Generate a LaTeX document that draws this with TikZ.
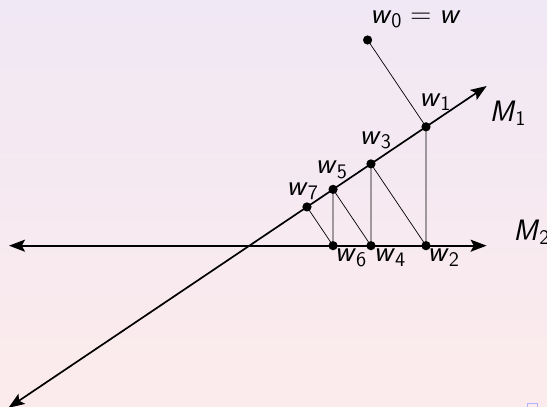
\documentclass[tikz,border=0pt]{standalone}
\usepackage{xcolor}
\usepackage{tikz}
\usetikzlibrary{arrows.meta, positioning, calc}
\definecolor{slidetop}{RGB}{240,232,245}
\definecolor{slidebottom}{RGB}{252,235,236}
\newcommand{\witer}[1]{\textsl{w}\textsubscript{#1}}
\tikzset{
  spaceline/.style={
    {Stealth[length=4mm,width=3mm,inset=0.8mm]}-{Stealth[length=4mm,width=3mm,inset=0.8mm]},
    line width=1.2pt
  },
  projline/.style={line width=0.5pt},
  iterdot/.style={circle, fill=black, inner sep=0pt, minimum size=2.3mm},
  iterlabel/.style={
    inner sep=0pt, anchor=base west,
    font=\fontsize{21}{25}\selectfont\sffamily
  },
}

\begin{document}
\begin{tikzpicture}
  % ── slide background ──
  \shade[top color=slidetop, bottom color=slidebottom] (0,0) rectangle (13.675,10.15);
  \useasboundingbox (0,0) rectangle (13.675,10.15);

  % ── the two subspaces ──
  \coordinate (O) at (6.235,4.008);
  \coordinate (M1tip) at ($(O)+(33.94:7.15)$);
  \coordinate (M1tail) at ($(O)+(213.94:7.26)$);
  \coordinate (M2tip) at ($(O)+(5.93,0)$);
  \coordinate (M2tail) at ($(O)+(-6.01,0)$);

  % ── alternating projections ──
  \coordinate (w0) at (9.19,9.15);
  \coordinate (w1) at ($(O)!(w0)!(M1tip)$);
  \coordinate (w2) at (w1 |- O);
  \coordinate (w3) at ($(O)!(w2)!(M1tip)$);
  \coordinate (w4) at (w3 |- O);
  \coordinate (w5) at ($(O)!(w4)!(M1tip)$);
  \coordinate (w6) at (w5 |- O);
  \coordinate (w7) at ($(O)!(w6)!(M1tip)$);

  \draw[spaceline] (M1tail) -- (M1tip);
  \draw[spaceline] (M2tail) -- (M2tip);
  \draw[projline] (w0) -- (w1) -- (w2) -- (w3) -- (w4) -- (w5) -- (w6) -- (w7);

  \foreach \i in {0,...,7}
    \node[iterdot] (dot\i) at (w\i) {};

  % ── labels ──
  \node[iterlabel] (lab0) at ($(w0)+(0.06,0.42)$) {\witer{0}${}={}$\textsl{w}};
  \node[iterlabel] (lab1) at ($(w1)+(-0.175,0.515)$) {\witer{1}};
  \node[iterlabel] (lab3) at ($(w3)+(-0.29,0.485)$) {\witer{3}};
  \node[iterlabel] (lab5) at ($(w5)+(-0.44,0.385)$) {\witer{5}};
  \node[iterlabel] (lab7) at ($(w7)+(-0.515,0.29)$) {\witer{7}};
  \node[iterlabel] (lab2) at ($(w2)+(0.035,-0.4)$) {\witer{2}};
  \node[iterlabel] (lab4) at ($(w4)+(0.065,-0.4)$) {\witer{4}};
  \node[iterlabel] (lab6) at ($(w6)+(0.04,-0.4)$) {\witer{6}};
  \node[iterlabel] (labM1) at ($(M1tip)+(0.065,-0.89)$) {\textsl{M}\textsubscript{1}};
  \node[iterlabel] (labM2) at ($(M2tip)+(0.665,0.14)$) {\textsl{M}\textsubscript{2}};

  % navigation remnant
  \draw[blue!30, line width=0.4pt] (13.175,0.075) rectangle (13.425,-0.2);
\end{tikzpicture}
\end{document}
